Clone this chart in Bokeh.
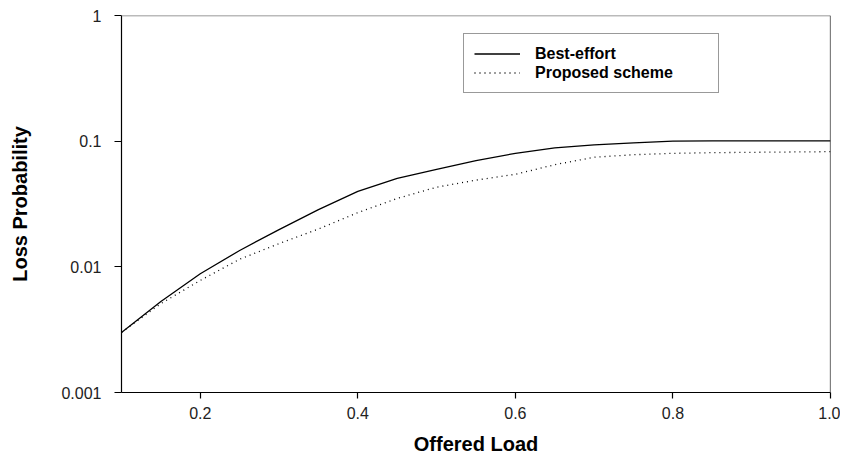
from bokeh.plotting import figure
from bokeh.models import (FixedTicker, CustomJSTickFormatter, PrintfTickFormatter,
                          Legend, LegendItem, Span)
from bokeh.embed import file_html
from bokeh.resources import INLINE

# ---- data ----
offered_load = [0.10, 0.15, 0.20, 0.25, 0.30, 0.35, 0.40, 0.45, 0.50, 0.55,
                0.60, 0.65, 0.70, 0.75, 0.80, 0.85, 0.90, 0.95, 1.00]
best_effort = [0.0030, 0.0053, 0.0088, 0.0135, 0.0198, 0.0285, 0.0398, 0.0505,
               0.0597, 0.0700, 0.0800, 0.0884, 0.0935, 0.0970, 0.1000, 0.1005,
               0.1005, 0.1005, 0.1005]
proposed = [0.0030, 0.0051, 0.0078, 0.0115, 0.0153, 0.0200, 0.0270, 0.0350,
            0.0430, 0.0490, 0.0545, 0.0650, 0.0745, 0.0780, 0.0800, 0.0810,
            0.0815, 0.0820, 0.0825]
x_ticks = [0.2, 0.4, 0.6, 0.8, 1.0]
y_ticks = [0.001, 0.01, 0.1, 1]
series_names = ["Best-effort", "Proposed scheme"]

FONT = "Liberation Sans"

p = figure(width=840, height=457, y_axis_type="log",
           x_range=(0.1, 1.0), y_range=(0.001, 1),
           min_border_left=121, min_border_top=15, min_border_right=10,
           min_border_bottom=65,
           output_backend="svg", toolbar_location=None)

p.outline_line_color = None
p.xgrid.visible = False
p.ygrid.visible = False
p.background_fill_color = "white"
p.border_fill_color = "white"

# axes
for ax in (p.xaxis[0], p.yaxis[0]):
    ax.axis_line_color = "black"
    ax.axis_line_width = 1.2
    ax.major_tick_line_color = "black"
    ax.major_tick_line_width = 1.2
    ax.major_tick_in = 0
    ax.minor_tick_line_color = None
    ax.major_label_text_font = FONT
    ax.major_label_text_font_size = "16px"
    ax.major_label_text_color = "#222222"
    ax.major_label_text_line_height = 1.0
    ax.axis_label_text_font = FONT
    ax.axis_label_text_font_size = "20px"
    ax.axis_label_text_font_style = "bold"
    ax.axis_label_text_color = "black"
    ax.axis_label_text_line_height = 1.0

p.xaxis.ticker = FixedTicker(ticks=x_ticks)
p.xaxis.formatter = PrintfTickFormatter(format="%.1f")
p.xaxis.major_tick_out = 6
p.xaxis.major_label_standoff = 8
p.xaxis.axis_label = "Offered Load"
p.xaxis.axis_label_standoff = 11

p.yaxis.ticker = FixedTicker(ticks=y_ticks)
p.yaxis.formatter = CustomJSTickFormatter(code="return tick.toString();")
p.yaxis.major_tick_out = 7
p.yaxis.major_label_standoff = 13
p.yaxis.axis_label = "Loss Probability"
p.yaxis.axis_label_standoff = 27

# top (gray) and right (black) frame lines
p.add_layout(Span(location=1, dimension="width", line_color="#777777", line_width=1.5))
p.add_layout(Span(location=1.0, dimension="height", line_color="black", line_width=1.2))

r1 = p.line(offered_load, best_effort, line_color="black", line_width=1.3)
r2 = p.line(offered_load, proposed, line_color="black", line_width=1.3,
            line_dash="1 4")

legend = Legend(items=[LegendItem(label=series_names[0], renderers=[r1]),
                       LegendItem(label=series_names[1], renderers=[r2])],
                location=(342, 299))
legend.border_line_color = "#333333"
legend.border_line_width = 1.2
legend.background_fill_color = "white"
legend.background_fill_alpha = 1
legend.padding = 10
legend.spacing = 0
legend.glyph_height = 19
legend.label_height = 19
legend.glyph_width = 46
legend.label_standoff = 15
legend.label_width = 173
legend.label_text_font = FONT
legend.label_text_font_size = "16px"
legend.label_text_font_style = "bold"
legend.label_text_color = "black"
p.add_layout(legend)

open("out.html", "w").write(file_html(p, INLINE))
